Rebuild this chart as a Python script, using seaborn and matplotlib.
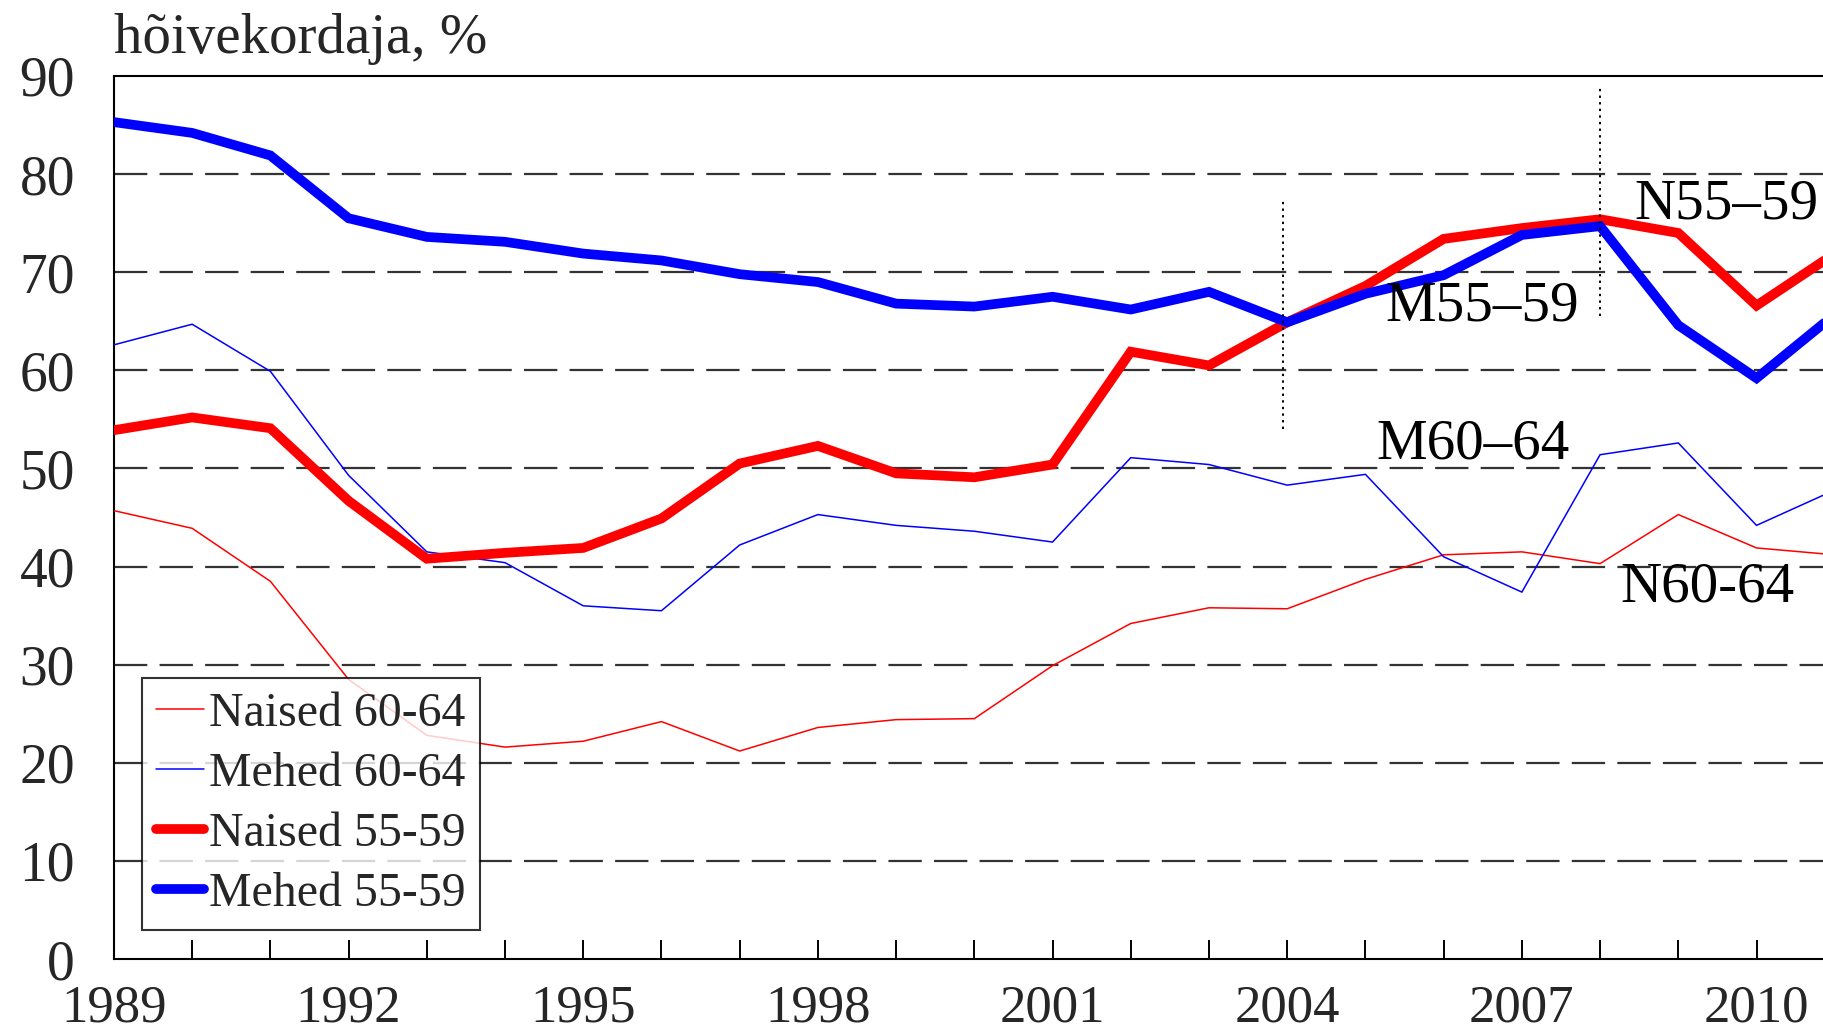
import matplotlib
matplotlib.use("Agg")
import matplotlib.pyplot as plt
import seaborn as sns
import pandas as pd
from matplotlib.ticker import MultipleLocator

years = list(range(1989, 2012))
naised_60_64 = [45.7, 43.9, 38.5, 28.5, 22.8, 21.6, 22.2, 24.2, 21.2, 23.6, 24.4, 24.5,
                29.9, 34.2, 35.8, 35.7, 38.7, 41.2, 41.5, 40.3, 45.3, 41.9, 41.2]
mehed_60_64 = [62.6, 64.7, 59.9, 49.3, 41.5, 40.4, 36.0, 35.5, 42.2, 45.3, 44.2, 43.6,
               42.5, 51.1, 50.4, 48.3, 49.4, 41.0, 37.4, 51.4, 52.6, 44.2, 47.8]
naised_55_59 = [53.9, 55.2, 54.1, 46.7, 40.8, 41.4, 41.9, 44.9, 50.5, 52.3, 49.5, 49.1,
                50.4, 61.9, 60.5, 64.9, 68.6, 73.4, 74.5, 75.4, 74.0, 66.6, 71.9]
mehed_55_59 = [85.3, 84.2, 81.9, 75.5, 73.6, 73.1, 71.9, 71.2, 69.8, 69.0, 66.8, 66.5,
               67.5, 66.2, 68.0, 64.9, 67.8, 69.7, 73.8, 74.7, 64.6, 59.2, 65.7]

series_labels = ["Naised 60-64", "Mehed 60-64", "Naised 55-59", "Mehed 55-59"]
annot_labels = ["N55\u201359", "M55\u201359", "M60\u201364", "N60-64"]
annot_pos = [(2009.62, 76.9), (2006.49, 66.5), (2006.37, 52.4), (2009.37, 37.9)]
y_title = "hõivekordaja, %"
x_ticks = [1989, 1992, 1995, 1998, 2001, 2004, 2007, 2010]
y_ticks = [0, 10, 20, 30, 40, 50, 60, 70, 80, 90]

sns.set_theme(style="white")
plt.rcParams['font.family'] = ['Liberation Serif', 'DejaVu Serif']

fig = plt.figure(figsize=(18.23, 10.34), dpi=100)
ax = fig.add_axes([0.0625, 0.0725, 0.9375, 0.854])

data = [naised_60_64, mehed_60_64, naised_55_59, mehed_55_59]
colors = ["#ff0000", "#0000ff", "#ff0000", "#0000ff"]
widths = [1.1, 1.1, 7.0, 7.0]
for vals, lab, c, w in zip(data, series_labels, colors, widths):
    df = pd.DataFrame({"year": years, "value": vals})
    sns.lineplot(data=df, x="year", y="value", ax=ax, color=c, linewidth=w,
                 label=lab, solid_joinstyle="miter", zorder=3)

# grid
for yv in y_ticks[1:-1]:
    ax.axhline(yv, color="#333333", lw=1.6, dashes=(15, 5.5), zorder=1)

# dotted vertical lines
ax.plot([2003.95, 2003.95], [54.0, 77.4], color="black", lw=1.4, ls=(0, (1.2, 2.2)), zorder=4)
ax.plot([2008.0, 2008.0], [65.5, 89.0], color="black", lw=1.4, ls=(0, (1.2, 2.2)), zorder=4)

for t, (xx, yy) in zip(annot_labels, annot_pos):
    ax.text(xx, yy, t, fontsize=41, ha="center", va="center", color="black", zorder=5)

ax.set_xlim(1989, 2010.85)
ax.set_ylim(0, 90)
ax.xaxis.set_minor_locator(MultipleLocator(1))
ax.set_xticks(x_ticks)
ax.set_yticks(y_ticks)
ax.tick_params(axis="x", which="both", direction="in", length=14, width=1.4,
               color="black", labelsize=38, pad=18, bottom=True)
ax.tick_params(axis="y", which="both", length=0, labelsize=40, pad=28)
ax.set_xlabel("")
ax.set_ylabel("")
for s in ["left", "bottom", "top"]:
    ax.spines[s].set_color("black")
    ax.spines[s].set_linewidth(1.5)
ax.spines["right"].set_visible(False)

fig.text(0.0625, 0.962, y_title, fontsize=41, ha="left", va="center")

leg = ax.legend(loc="lower left", bbox_to_anchor=(0.0164, 0.033), borderaxespad=0,
                fontsize=34.5, handlelength=1.0, handletextpad=0.1, labelspacing=0.33,
                frameon=True, fancybox=False, edgecolor="black", borderpad=0.3)
leg.get_frame().set_linewidth(1.5)
leg.set_zorder(6)

fig.savefig("out.png", dpi=100)
